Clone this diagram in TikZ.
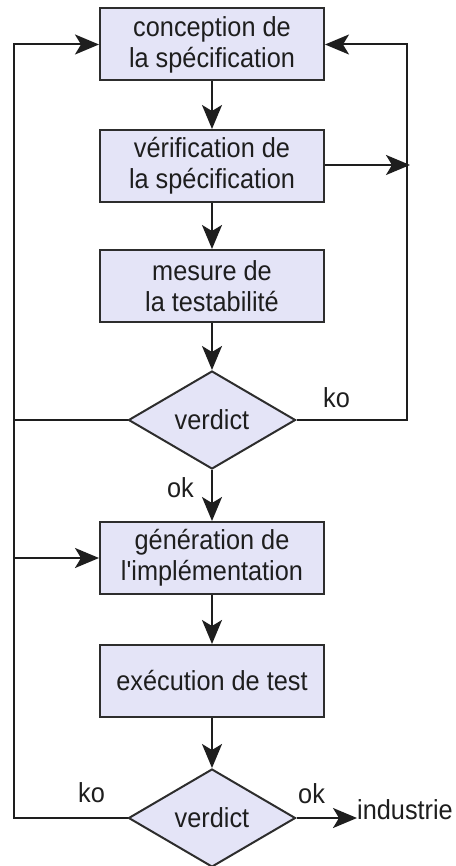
\documentclass[tikz,border=0pt]{standalone}
\usepackage{fontspec}
\setmainfont{Liberation Sans}[FakeStretch=0.92, Ligatures=TeXOff]
\usetikzlibrary{arrows.meta,shapes.geometric}
\definecolor{boxfill}{RGB}{228,228,247}
\definecolor{boxline}{RGB}{45,45,45}
\definecolor{ink}{RGB}{30,30,30}
\begin{document}
\begin{tikzpicture}[x=1pt,y=-1pt,
  every node/.style={font=\fontsize{27.5}{31}\selectfont, text=ink},
  stepbox/.style={draw=boxline, line width=2pt, fill=boxfill, rectangle,
    minimum width=224pt, minimum height=72pt, inner sep=0pt, align=center},
  decision/.style={draw=boxline, line width=2pt, fill=boxfill, diamond,
    minimum width=167pt, minimum height=98pt, inner sep=0pt},
  lbl/.style={inner sep=0pt},
  conn/.style={draw=ink, line width=2pt},
  arr/.style={conn, -{Stealth[length=24pt,width=20pt,inset=6pt]}}
]
\useasboundingbox (0,0) rectangle (455,866);

\node[stepbox] (b1) at (212,44.5) {conception de\\la spécification};
\node[stepbox] (b2) at (212,166) {vérification de\\la spécification};
\node[stepbox] (b3) at (212,286) {mesure de\\la testabilité};
\node[decision] (d1) at (212,420) {verdict};
\node[stepbox] (b4) at (212,558) {génération de\\l'implémentation};
\node[stepbox] (b5) at (212,681) {exécution de test};
\node[decision] (d2) at (212,818) {verdict};

\coordinate (L) at (14,818);
\coordinate (R) at (407,420);
\coordinate (R2) at (410,165);
\node[lbl, anchor=base west] (ind) at (357,819) {industrie};

% labels
\node[lbl, anchor=base east] (ok1) at (194,497) {ok};
\node[lbl, anchor=base west] (ko1) at (323,407) {ko};
\node[lbl, anchor=base west] (ko2) at (78,802) {ko};
\node[lbl, anchor=base west] (ok2) at (298,803) {ok};

% main flow
\draw[arr] (b1) -- (b2);
\draw[arr] (b2) -- (b3);
\draw[arr] (b3) -- (d1);
\draw[arr] (d1) -- (b4);
\draw[arr] (b4) -- (b5);
\draw[arr] (b5) -- (d2);

% left loop
\draw[arr] (d2.west) -- (L) |- (b1.west);
\draw[conn] (d1.west) -- (d1.west -| L);
\draw[arr] (L |- b4.west) -- (b4.west);

% right loop
\draw[arr] (d1.east) -- (R) |- (b1.east);
\draw[arr] (b2.east |- R2) -- (R2);

% exit
\draw[arr] (d2.east) -- (d2.east -| ind.west);
\end{tikzpicture}
\end{document}
